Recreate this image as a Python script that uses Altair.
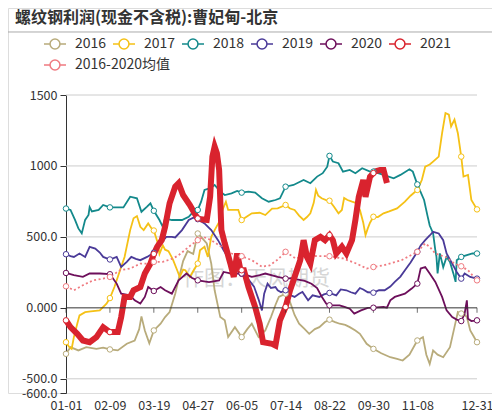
import altair as alt
import pandas as pd

FONT = "Noto Sans CJK SC"

title_text = "螺纹钢利润(现金不含税):曹妃甸-北京"
watermark = "作图：天风期货"

series_names = ["2016", "2017", "2018", "2019", "2020", "2021", "2016-2020均值"]
series_colors = ["#b8ab7b", "#f5c116", "#13898b", "#4a3a98", "#6d0f5b", "#d9232e", "#ef7a80"]

tick_days = [0, 39, 78, 117, 156, 195, 234, 273, 312, 365]
tick_labels = ["01-01", "02-09", "03-19", "04-27", "06-05", "07-14", "08-22", "09-30", "11-08", "12-31"]
circle_days = [0, 39, 78, 117, 156, 195, 234, 273, 312, 351, 365]

y_ticks = [1500, 1000, 500, 0, -500, -600]
y_labels = ["1500", "1000", "500.0", "0.000", "-500.0", "-600.0"]
grid_vals = [1500, 1000, 500, -500]

s2016 = [(0,-324),(4,-277),(11,-300),(18,-277),(27,-289),(33,-280),(39,-293),(46,-300),(54,-253),(61,-230),
         (65,-150),(67,-60),(70,-160),(74,-250),(78,-159),(84,-112),(88,-65),(92,-30),(97,100),(100,200),
         (104,330),(108,400),(113,380),(117,524),(120,500),(125,454),(129,312),(132,124),(137,-65),(141,-88),
         (144,-206),(150,-136),(156,-206),(161,-150),(165,-112),(171,-206),(177,-159),(182,-65),(186,20),(189,77),
         (195,100),(199,40),(203,-50),(207,-112),(212,-150),(216,-183),(221,-150),(225,-136),(230,-100),(234,-83),
         (239,-100),(243,-112),(248,-120),(252,-136),(257,-160),(261,-183),(267,-253),(273,-289),(280,-320),(288,-348),
         (294,-360),(299,-371),(305,-330),(312,-230),(317,-206),(320,-330),(323,-395),(326,-300),(330,-330),(335,-348),
         (341,-277),(345,-136),(348,-30),(351,-40),(353,-41),(356,-65),(359,-159),(362,-200),(365,-242)]

s2017 = [(0,-242),(3,-277),(5,-289),(7,-206),(10,-112),(12,-53),(17,-30),(22,-25),(30,-18),(36,30),
         (39,69),(43,147),(48,265),(52,359),(57,548),(60,631),(63,647),(66,571),(69,548),(73,595),
         (76,560),(78,545),(81,470),(83,380),(86,440),(88,410),(91,400),(95,340),(99,260),(101,218),
         (104,270),(106,265),(110,218),(113,260),(117,312),(119,406),(123,430),(126,359),(129,500),(132,548),
         (137,619),(139,690),(142,748),(144,690),(149,690),(153,690),(156,619),(160,640),(165,666),(172,670),
         (177,654),(183,700),(188,701),(195,725),(199,700),(203,690),(207,650),(211,619),(214,640),(217,666),
         (220,740),(222,831),(224,790),(227,772),(231,760),(234,755),(238,713),(242,666),(245,690),(247,774),
         (250,760),(254,748),(258,737),(261,690),(264,600),(266,513),(268,560),(270,600),(273,642),(277,640),
         (282,666),(287,680),(294,701),(301,748),(306,790),(312,831),(316,901),(319,995),(323,1010),(326,1031),
         (331,1066),(334,1231),(337,1373),(340,1361),(342,1278),(345,1326),(348,1231),(351,1066),(353,925),(357,937),
         (360,760),(365,694)]

s2018 = [(0,700),(4,690),(8,620),(11,560),(14,525),(17,620),(20,655),(21,710),(23,680),(29,690),
         (33,725),(39,708),(51,708),(57,783),(63,772),(67,677),(72,713),(75,737),(78,684),(83,619),
         (86,571),(88,631),(94,619),(103,619),(109,642),(113,677),(117,690),(120,748),(123,831),(128,843),
         (132,866),(137,819),(141,795),(147,807),(152,824),(156,812),(162,819),(168,812),(174,772),(180,748),
         (186,760),(190,772),(195,854),(202,866),(211,901),(217,878),(223,925),(228,949),(232,995),(234,1071),
         (237,1031),(242,1019),(246,960),(252,972),(257,949),(263,984),(270,960),(273,960),(282,937),(291,913),
         (297,937),(305,977),(308,960),(312,870),(318,760),(321,650),(323,580),(326,526),(328,406),(329,359),
         (330,243),(332,384),(335,287),(338,359),(341,324),(344,243),(346,183),(347,336),(351,359),(356,371),
         (361,383),(365,383)]

s2019 = [(0,378),(4,365),(7,359),(12,383),(17,359),(21,430),(26,418),(30,390),(33,359),(39,341),
         (45,359),(49,288),(54,324),(58,359),(62,345),(66,336),(72,359),(78,388),(83,442),(89,500),
         (94,500),(97,496),(103,548),(109,619),(113,635),(117,625),(123,595),(129,548),(135,477),(140,406),
         (147,312),(152,265),(156,240),(162,200),(167,150),(171,60),(174,-18),(176,100),(179,171),(182,140),
         (186,147),(188,124),(191,110),(195,124),(199,90),(203,77),(207,100),(210,112),(215,53),(219,88),
         (225,77),(229,95),(234,105),(240,88),(244,130),(249,124),(253,110),(257,100),(261,140),(264,129),
         (268,110),(273,107),(278,125),(283,124),(288,150),(292,183),(297,220),(301,265),(306,320),(312,395),
         (315,440),(319,477),(323,510),(326,536),(331,524),(335,477),(338,383),(343,312),(347,253),(351,206),
         (354,242),(359,218),(365,206)]

s2020 = [(0,246),(7,230),(15,218),(21,242),(30,242),(39,237),(45,171),(49,100),(57,88),(61,53),
         (66,30),(70,77),(73,147),(78,119),(84,147),(88,124),(94,100),(100,194),(107,242),(112,210),
         (117,194),(127,182),(136,194),(140,253),(147,242),(156,242),(165,218),(172,230),(177,242),(188,218),
         (195,206),(200,210),(205,200),(212,190),(218,170),(223,140),(227,80),(231,30),(234,18),(243,18),
         (248,5),(252,-6),(256,-41),(262,-18),(268,0),(273,1),(282,6),(285,1),(288,53),(292,77),
         (301,100),(307,136),(312,171),(315,277),(319,288),(323,242),(328,183),(334,77),(338,-18),(343,-65),
         (347,-83),(351,-93),(354,-41),(356,53),(357,-76),(360,-93),(365,-88)]

s2021 = [(0,-88),(4,-136),(10,-183),(15,-230),(21,-242),(27,-206),(33,-136),(39,-171),(46,-171),(49,-65),
         (52,77),(57,77),(60,124),(66,147),(70,242),(75,312),(78,380),(81,430),(85,477),(88,571),
         (92,737),(97,854),(100,878),(104,795),(110,725),(115,654),(117,630),(120,624),(125,619),(128,783),
         (130,1066),(132,1137),(134,1090),(136,972),(138,548),(141,454),(146,312),(149,218),(152,383),(155,265),
         (156,265),(158,265),(162,147),(168,6),(172,-112),(175,-242),(183,-253),(186,-265),(190,-88),(195,6),
         (199,124),(203,218),(208,336),(211,477),(214,359),(217,312),(221,477),(226,500),(230,477),(234,513),
         (237,477),(240,383),(245,430),(249,383),(254,477),(257,619),(260,783),(264,901),(266,783),(270,925),
         (273,950),(274,960),(279,972),(282,972),(285,880)]

savg = [(0,152),(7,124),(15,159),(24,194),(33,206),(39,218),(48,265),(57,277),(66,312),(73,312),
        (78,324),(86,324),(95,348),(100,371),(109,430),(117,477),(122,500),(129,477),(138,430),(147,383),
        (156,364),(165,336),(174,290),(181,300),(188,340),(195,395),(204,348),(214,371),(223,364),(234,364),
        (246,348),(258,312),(267,277),(273,288),(282,300),(298,336),(312,395),(319,454),(323,430),(328,383),
        (337,359),(345,312),(351,293),(357,265),(365,194)]

all_series = [s2016, s2017, s2018, s2019, s2020, s2021, savg]

rows = []
for name, pts in zip(series_names, all_series):
    for d, v in pts:
        rows.append({"day": d, "value": v, "series": name})
df = pd.DataFrame(rows)

main_df = df[df.series.isin(series_names[:5])]
avg_df = df[df.series == series_names[6]]
red_df = df[df.series == series_names[5]]
pts_df = df[df.day.isin(circle_days)]

# whole drawing area is the view; plot region set by the scale ranges
W, H = 484, 385
PL, PR, PT, PB = 58, 469, 87, 385

xs = alt.Scale(domain=[0, 365], range=[PL, PR], nice=False, zero=False)
ys = alt.Scale(domain=[-600, 1500], range=[PB, PT], nice=False, zero=False)

x_label_expr = "[" + ",".join("'%s'" % l for l in tick_labels) + "][indexof([" + ",".join(str(d) for d in tick_days) + "], datum.value)]"
y_label_expr = "[" + ",".join("'%s'" % l for l in y_labels) + "][indexof([" + ",".join(str(v) for v in y_ticks) + "], datum.value)]"

x_axis = alt.Axis(values=tick_days, labelExpr=x_label_expr, grid=False, domain=False, ticks=False,
                  labelPadding=6, labelFontSize=12.5, labelColor="#333", labelFont=FONT, title=None,
                  labelOverlap=False, labelFlush=False)
y_axis = alt.Axis(values=y_ticks, labelExpr=y_label_expr, grid=False, domain=True, domainColor="#333",
                  ticks=True, tickColor="#333", tickSize=6, labelPadding=3, labelFontSize=12.5,
                  labelColor="#333", labelFont=FONT, title=None, labelOverlap=False, labelFlush=False,
                  offset=-PL)

X = alt.X("day:Q", scale=xs, axis=x_axis)
Y = alt.Y("value:Q", scale=ys, axis=y_axis)

legend_path = "M-1,0L-0.45,0M0.45,0L1,0M0.45,0A0.45,0.45,0,1,1,-0.45,0A0.45,0.45,0,1,1,0.45,0Z"

legend_common = dict(orient="none", direction="horizontal", symbolType=legend_path, symbolSize=484,
                     symbolStrokeWidth=1.5, labelFontSize=14, labelFont=FONT, labelColor="#333",
                     labelOffset=8, columnPadding=3, title=None, padding=0)

cscale = alt.Scale(domain=series_names, range=series_colors)
color_main = alt.Color("series:N", scale=cscale,
                       legend=alt.Legend(values=series_names[:6], legendX=35, legendY=24, columns=6,
                                         **legend_common))
color_avg = alt.Color("series:N", scale=cscale,
                      legend=alt.Legend(values=series_names[6:], legendX=35, legendY=45, columns=1,
                                        **legend_common))
color_none = alt.Color("series:N", scale=cscale, legend=None)

# separator under the title (decoration)
sep_df = pd.DataFrame({"day": [-51.5], "day2": [378.3], "value": [1944]})
sep = alt.Chart(sep_df).mark_rule(color="#aaaaaa", strokeWidth=1).encode(x=X, x2="day2:Q", y=Y)

gz = pd.DataFrame({"day": [0] * len(grid_vals), "day2": [365] * len(grid_vals), "value": grid_vals})
grid = alt.Chart(gz).mark_rule(color="#cccccc", strokeWidth=1).encode(x=X, x2="day2:Q", y=Y)
zero = alt.Chart(pd.DataFrame({"day": [0], "day2": [365], "value": [0]})).mark_rule(
    color="#333", strokeWidth=1).encode(x=X, x2="day2:Q", y=Y)
ticks = alt.Chart(pd.DataFrame({"day": tick_days, "value": [0] * len(tick_days)})).mark_tick(
    orient="vertical", size=5, thickness=1, color="#333", yOffset=2.5).encode(x=X, y=Y)

title = alt.Chart(pd.DataFrame({"t": [title_text]})).mark_text(
    align="left", baseline="middle", fontSize=16, fontWeight="bold", font=FONT, color="#333").encode(
    text="t:N", x=alt.value(7), y=alt.value(10))

wm = alt.Chart(pd.DataFrame({"t": [watermark]})).mark_text(
    align="left", baseline="middle", fontSize=21, font=FONT, color="#bbbbbb", opacity=0.6).encode(
    text="t:N", x=alt.value(175), y=alt.value(271))

main = alt.Chart(main_df).mark_line(strokeWidth=1.8).encode(x=X, y=Y, color=color_main, detail="series:N")
avg = alt.Chart(avg_df).mark_line(strokeWidth=1.8, strokeDash=[2, 2.5]).encode(x=X, y=Y, color=color_avg)
red = alt.Chart(red_df).mark_line(strokeWidth=6).encode(x=X, y=Y, color=color_none)
pts = alt.Chart(pts_df).mark_point(shape="circle", filled=True, fill="white", size=30, strokeWidth=1,
                                   opacity=1).encode(x=X, y=Y, stroke=alt.Stroke("series:N", scale=cscale, legend=None))

chart = alt.layer(title, sep, grid, wm, main, avg, red, zero, ticks, pts).resolve_scale(
    color="independent"
).properties(
    width=W, height=H,
    autosize=alt.AutoSizeParams(type="none"),
    padding={"left": 0, "top": 0, "right": 0, "bottom": 20},
).configure_view(stroke=None).configure(background="white")

chart.save("out.html", embed_options={"renderer": "svg", "actions": False})
